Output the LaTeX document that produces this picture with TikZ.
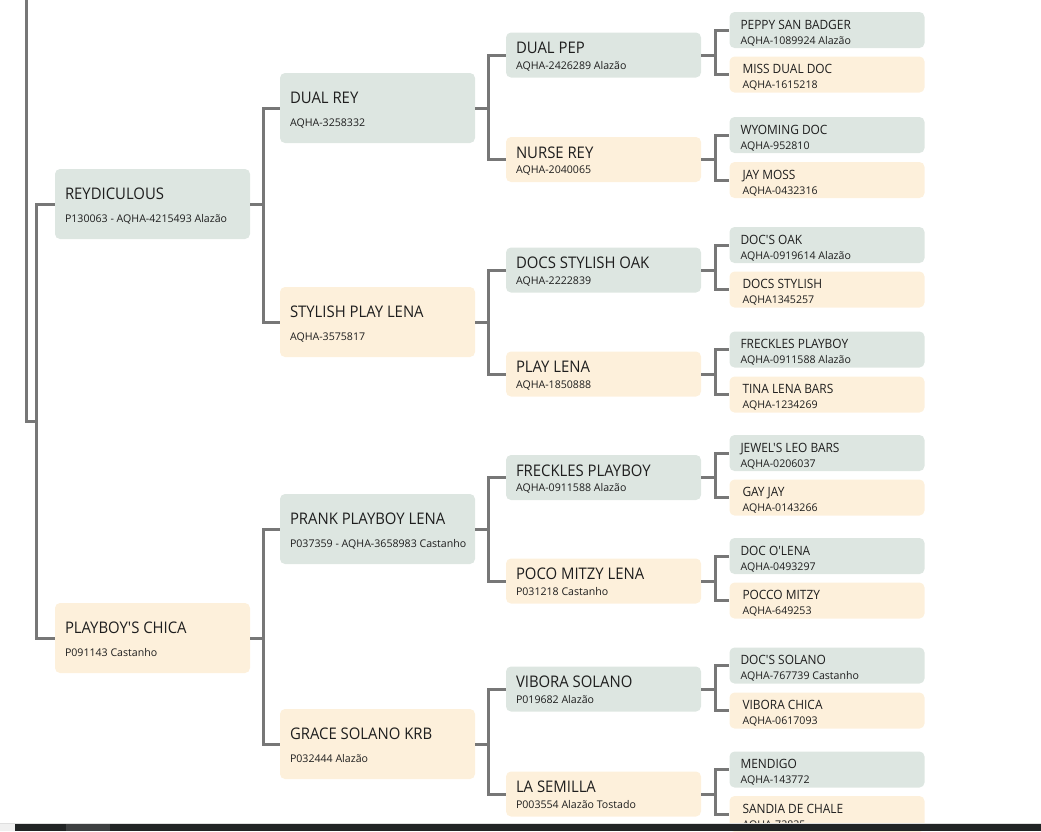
\documentclass[tikz,border=0pt]{standalone}
\usepackage{fontspec}
\setmainfont{Open Sans}[Ligatures=TeXOff]
\newfontfamily\namefont{Open Sans}[FakeStretch=0.93,Ligatures=TeXOff]
\usetikzlibrary{positioning}

\definecolor{sirefill}{HTML}{DDE6E1}
\definecolor{damefill}{HTML}{FDF0DB}
\definecolor{linkgray}{HTML}{777777}
\definecolor{inkgray}{HTML}{1E1E1E}
\definecolor{barblack}{HTML}{212425}
\definecolor{barseg}{HTML}{3D3F41}

\tikzset{
  horse/.style={rounded corners=5pt,minimum width=195pt,inner sep=0pt,draw=none},
  sire/.style={horse,fill=sirefill},
  dame/.style={horse,fill=damefill},
  genwide/.style={minimum height=70pt},
  genmid/.style={minimum height=45pt},
  gensmall/.style={minimum height=36pt},
  bigname/.style={font=\namefont\fontsize{16}{16}\selectfont,text=inkgray,inner sep=0pt,anchor=base west},
  smallname/.style={font=\namefont\fontsize{12.8}{12.8}\selectfont,text=inkgray,inner sep=0pt,anchor=base west},
  regno/.style={font=\fontsize{10.6}{10.6}\selectfont,text=inkgray,inner sep=0pt,anchor=base west},
  link/.style={draw=linkgray,line width=3pt}
}

\newcommand{\horsewide}[6]{%
  \node[#4,genwide] (#1) at (#2,#3) {};
  \node[bigname] (#1-name) at ([xshift=10pt,yshift=5pt]#1.west) {#5};
  \node[regno] (#1-reg) at ([xshift=10pt,yshift=-18pt]#1.west) {#6};}
\newcommand{\horsemid}[6]{%
  \node[#4,genmid] (#1) at (#2,#3) {};
  \node[bigname] (#1-name) at ([xshift=10pt,yshift=1.5pt]#1.west) {#5};
  \node[regno] (#1-reg) at ([xshift=10pt,yshift=-14pt]#1.west) {#6};}
% last column: sires at 11pt in, dams at 13pt in
\newcommand{\horsesmall}[7]{%
  \node[#4,gensmall] (#1) at (#2,#3) {};
  \node[smallname] (#1-name) at ([xshift=#7,yshift=1pt]#1.west) {#5};
  \node[regno] (#1-reg) at ([xshift=#7,yshift=-14pt]#1.west) {#6};}
\newcommand{\sirelink}[4]{%
  \draw[link] (#1.east) -- ++(#4,0) |- (#2.west) (#1.east) ++(#4,0) |- (#3.west);}

\begin{document}
\begin{tikzpicture}[x=1pt,y=-1pt]
  \useasboundingbox (0,0) rectangle (1041,831);
  %parents
  \horsewide{reydiculous}{152.5}{204}{sire}{REYDICULOUS}{P130063 - AQHA-4215493 Alazão}
  \horsewide{playboyschica}{152.5}{638}{dame}{PLAYBOY'S CHICA}{P091143 Castanho}
  %grandparents
  \horsewide{dualrey}{377.5}{108}{sire}{DUAL REY}{AQHA-3258332}
  \horsewide{stylishplaylena}{377.5}{322}{dame}{STYLISH PLAY LENA}{AQHA-3575817}
  \horsewide{prankplayboylena}{377.5}{529}{sire}{PRANK PLAYBOY LENA}{P037359 - AQHA-3658983 Castanho}
  \horsewide{gracesolanokrb}{377.5}{744}{dame}{GRACE SOLANO KRB}{P032444 Alazão}
  %great-grandparents
  \horsemid{dualpep}{603.5}{55}{sire}{DUAL PEP}{AQHA-2426289 Alazão}
  \horsemid{nurserey}{603.5}{159.5}{dame}{NURSE REY}{AQHA-2040065}
  \horsemid{docsstylishoak}{603.5}{270}{sire}{DOCS STYLISH OAK}{AQHA-2222839}
  \horsemid{playlena}{603.5}{374}{dame}{PLAY LENA}{AQHA-1850888}
  \horsemid{frecklesplayboy}{603.5}{477.5}{sire}{FRECKLES PLAYBOY}{AQHA-0911588 Alazão}
  \horsemid{pocomitzylena}{603.5}{581}{dame}{POCO MITZY LENA}{P031218 Castanho}
  \horsemid{viborasolano}{603.5}{689}{sire}{VIBORA SOLANO}{P019682 Alazão}
  \horsemid{lasemilla}{603.5}{794}{dame}{LA SEMILLA}{P003554 Alazão Tostado}
  %great-great-grandparents
  \horsesmall{peppysanbadger}{827}{30}{sire}{PEPPY SAN BADGER}{AQHA-1089924 Alazão}{11pt}
  \horsesmall{missdualdoc}{827}{74.5}{dame}{MISS DUAL DOC}{AQHA-1615218}{13pt}
  \horsesmall{wyomingdoc}{827}{135}{sire}{WYOMING DOC}{AQHA-952810}{11pt}
  \horsesmall{jaymoss}{827}{180}{dame}{JAY MOSS}{AQHA-0432316}{13pt}
  \horsesmall{docsoak}{827}{245}{sire}{DOC'S OAK}{AQHA-0919614 Alazão}{11pt}
  \horsesmall{docsstylish}{827}{289.5}{dame}{DOCS STYLISH}{AQHA1345257}{13pt}
  \horsesmall{frecklesplayboysr}{827}{349.5}{sire}{FRECKLES PLAYBOY}{AQHA-0911588 Alazão}{11pt}
  \horsesmall{tinalenabars}{827}{394.5}{dame}{TINA LENA BARS}{AQHA-1234269}{13pt}
  \horsesmall{jewelsleobars}{827}{453}{sire}{JEWEL'S LEO BARS}{AQHA-0206037}{11pt}
  \horsesmall{gayjay}{827}{497.5}{dame}{GAY JAY}{AQHA-0143266}{13pt}
  \horsesmall{docolena}{827}{556}{sire}{DOC O'LENA}{AQHA-0493297}{11pt}
  \horsesmall{poccomitzy}{827}{600.5}{dame}{POCCO MITZY}{AQHA-649253}{13pt}
  \horsesmall{docssolano}{827}{665.5}{sire}{DOC'S SOLANO}{AQHA-767739 Castanho}{11pt}
  \horsesmall{viborachica}{827}{710.5}{dame}{VIBORA CHICA}{AQHA-0617093}{13pt}
  \horsesmall{mendigo}{827}{769.5}{sire}{MENDIGO}{AQHA-143772}{11pt}
  \horsesmall{sandiadechale}{827}{814}{dame}{SANDIA DE CHALE}{AQHA-73835}{13pt}
  %trunk from the foal
  \coordinate (foal) at (26,-3);
  \coordinate (trunk) at (37,421);
  \draw[link] (foal) |- (trunk);
  \draw[link] (reydiculous.west) -- ++(-18,0) |- (playboyschica.west);
  %brackets
  \sirelink{reydiculous}{dualrey}{stylishplaylena}{13}
  \sirelink{playboyschica}{prankplayboylena}{gracesolanokrb}{13}
  \sirelink{dualrey}{dualpep}{nurserey}{13}
  \sirelink{stylishplaylena}{docsstylishoak}{playlena}{13}
  \sirelink{prankplayboylena}{frecklesplayboy}{pocomitzylena}{13}
  \sirelink{gracesolanokrb}{viborasolano}{lasemilla}{13}
  \sirelink{dualpep}{peppysanbadger}{missdualdoc}{14}
  \sirelink{nurserey}{wyomingdoc}{jaymoss}{14}
  \sirelink{docsstylishoak}{docsoak}{docsstylish}{14}
  \sirelink{playlena}{frecklesplayboysr}{tinalenabars}{14}
  \sirelink{frecklesplayboy}{jewelsleobars}{gayjay}{14}
  \sirelink{pocomitzylena}{docolena}{poccomitzy}{14}
  \sirelink{viborasolano}{docssolano}{viborachica}{14}
  \sirelink{lasemilla}{mendigo}{sandiadechale}{14}
  %window bar at the bottom
  \fill[gray!25] (0,822.5) rectangle (1041,824);
  \fill[gray!12] (0,824) rectangle (15,831);
  \fill[barblack] (15,824) rectangle (1041,831);
  \fill[barseg] (66,824) rectangle (110,831);
\end{tikzpicture}
\end{document}
